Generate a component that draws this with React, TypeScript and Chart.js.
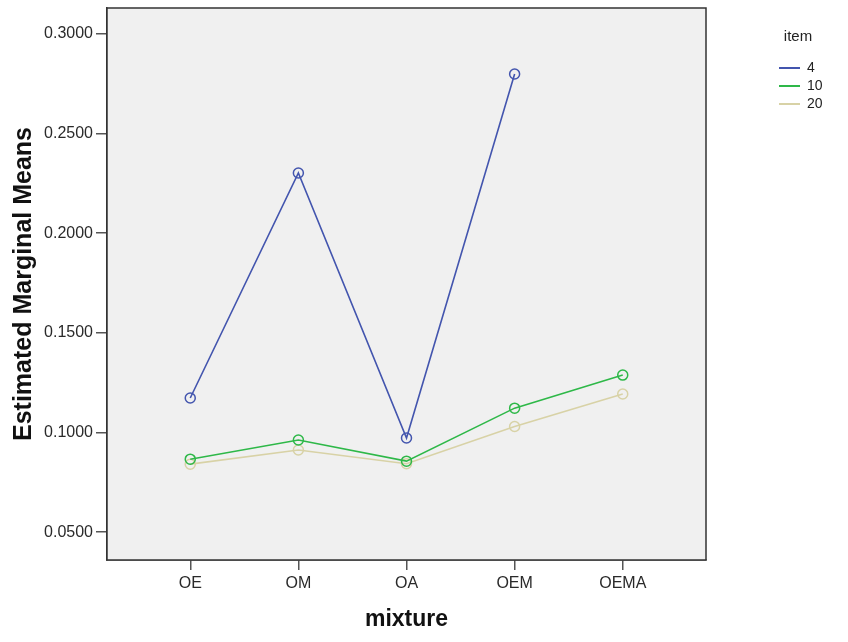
import React, { useEffect, useRef } from "react";
import { Chart, registerables } from "chart.js";

Chart.register(...registerables);

const categories = ["OE", "OM", "OA", "OEM", "OEMA"];
const seriesNames = ["4", "10", "20"];
const item4 = [0.1173, 0.2302, 0.0972, 0.2799, null];
const item10 = [0.0866, 0.0962, 0.0856, 0.1122, 0.1288];
const item20 = [0.0841, 0.0912, 0.0843, 0.103, 0.1193];
const seriesColors = ["#4355ae", "#2eb848", "#d8d2a6"];

const FONT = "'Liberation Sans', Arial, Helvetica, sans-serif";

const plotFrame = {
  id: "plotFrame",
  beforeDatasetsDraw(chart: any) {
    const { ctx, chartArea: a } = chart;
    ctx.save();
    ctx.fillStyle = "#f0f0f0";
    ctx.fillRect(a.left, a.top, a.right - a.left, a.bottom - a.top);
    ctx.restore();
  },
  afterDraw(chart: any) {
    const { ctx, chartArea: a } = chart;
    ctx.save();
    ctx.strokeStyle = "#333";
    ctx.lineWidth = 1.5;
    ctx.strokeRect(a.left, a.top, a.right - a.left, a.bottom - a.top);
    ctx.restore();
  },
  afterLayout(chart: any) {
    const lg = chart.legend;
    if (!lg) return;
    lg.left = 775;
    lg.top = 29.5;
    lg.width = 46;
    lg.height = 100;
    lg.right = 848;
    lg.bottom = lg.top + lg.height;
  },
};

export default function App() {
  const ref = useRef<HTMLCanvasElement | null>(null);
  useEffect(() => {
    if (!ref.current) return;
    const all = [item4, item10, item20];
    const chart = new Chart(ref.current, {
      type: "line",
      data: {
        datasets: all.map((vals, k) => ({
          label: seriesNames[k],
          data: categories.map((c, i) => ({ x: i, y: vals[i] })),
          borderColor: seriesColors[k],
          backgroundColor: seriesColors[k],
          pointBackgroundColor: "rgba(0,0,0,0)",
          pointBorderColor: seriesColors[k],
          pointRadius: 5,
          pointBorderWidth: 1.5,
          borderWidth: 1.6,
          tension: 0,
          spanGaps: false,
          fill: false,
        })),
      },
      options: {
        animation: false,
        responsive: false,
        devicePixelRatio: 1,
        layout: { padding: { top: 8, right: 142, left: 0, bottom: 0 } },
        plugins: {
          tooltip: { enabled: false },
          legend: {
            position: "chartArea" as any,
            align: "start",
            title: {
              display: true,
              text: "item",
              color: "#222",
              font: { family: FONT, size: 15 },
              padding: { top: 0, bottom: 9.5 },
              position: "center",
            },
            labels: {
              boxWidth: 21,
              boxHeight: 2,
              padding: 4,
              color: "#222",
              font: { family: FONT, size: 14 },
              generateLabels: (ch: any) =>
                Chart.defaults.plugins.legend.labels
                  .generateLabels(ch)
                  .map((l: any) => ({ ...l, fillStyle: l.strokeStyle, lineWidth: 0 })),
            },
          },
        },
        scales: {
          x: {
            type: "linear",
            min: -0.77,
            max: 4.77,
            afterFit: (s: any) => {
              s.height = 82;
              s.paddingLeft = 0;
              s.paddingRight = 0;
            },
            ticks: {
              stepSize: 1,
              includeBounds: false,
              autoSkip: false,
              maxRotation: 0,
              padding: 4,
              color: "#2a2a2a",
              font: { family: FONT, size: 16 },
              callback: (v: any) => categories[v] ?? "",
            },
            grid: {
              drawOnChartArea: false,
              drawTicks: true,
              tickLength: 10,
              color: "#555",
              lineWidth: 1.5,
            },
            border: { display: true, color: "#333", width: 1.5 },
            title: {
              display: true,
              text: "mixture",
              color: "#111",
              font: { family: FONT, size: 23, weight: "bold" },
              padding: { top: 0, bottom: 9 },
            },
          },
          y: {
            type: "linear",
            min: 0.036,
            max: 0.313,
            afterFit: (s: any) => {
              s.width = 107;
              s.paddingTop = 0;
              s.paddingBottom = 0;
            },
            ticks: {
              stepSize: 0.05,
              includeBounds: false,
              padding: 3,
              color: "#2a2a2a",
              font: { family: FONT, size: 16 },
              callback: (v: any) => Number(v).toFixed(4),
            },
            grid: {
              drawOnChartArea: false,
              drawTicks: true,
              tickLength: 11,
              color: "#555",
              lineWidth: 1.5,
            },
            border: { display: true, color: "#333", width: 1.5 },
            title: {
              display: true,
              text: "Estimated Marginal Means",
              color: "#111",
              font: { family: FONT, size: 25, weight: "bold" },
              padding: { top: 9, bottom: 0 },
            },
          },
        },
      },
      plugins: [plotFrame],
    });
    return () => chart.destroy();
  }, []);
  return (
    <div style={{ position: "absolute", left: 0, top: 0, width: 848, height: 642, background: "#fff" }}>
      <canvas ref={ref} width={848} height={642} style={{ display: "block" }} />
    </div>
  );
}
